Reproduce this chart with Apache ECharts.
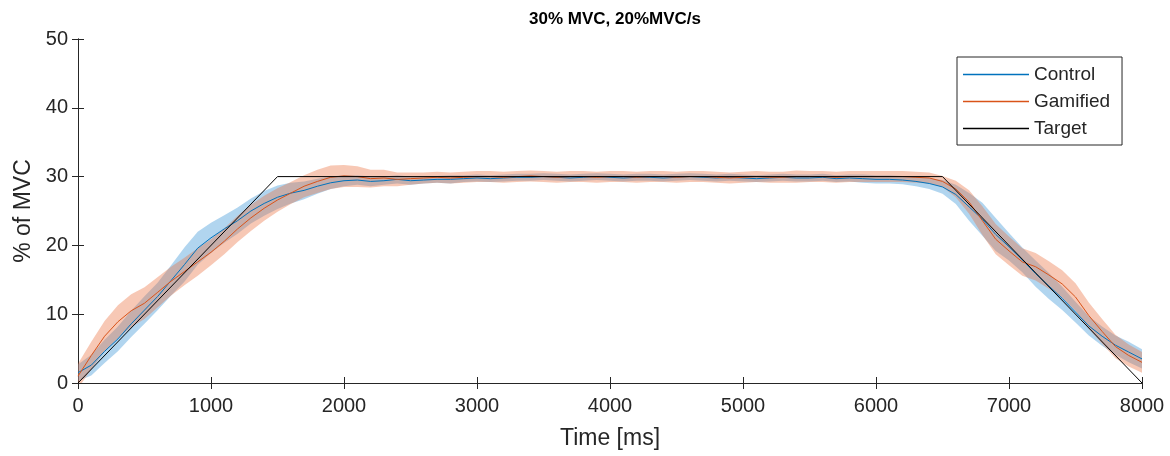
<!DOCTYPE html>
<html>
<head>
<meta charset="utf-8">
<script src="https://cdn.jsdelivr.net/npm/echarts@6/dist/echarts.min.js"></script>
<style>html,body{margin:0;padding:0;background:#fff}#c{width:1170px;height:456px}</style>
</head>
<body>
<div id="c"></div>
<script>
// time grid (ms), step 100
const timeMs = [0,100,200,300,400,500,600,700,800,900,1000,1100,1200,1300,1400,1500,1600,1700,1800,1900,2000,2100,2200,2300,2400,2500,2600,2700,2800,2900,3000,3100,3200,3300,3400,3500,3600,3700,3800,3900,4000,4100,4200,4300,4400,4500,4600,4700,4800,4900,5000,5100,5200,5300,5400,5500,5600,5700,5800,5900,6000,6100,6200,6300,6400,6500,6600,6700,6800,6900,7000,7100,7200,7300,7400,7500,7600,7700,7800,7900,8000];
// Control mean (% MVC)
const controlMean = [1.5,2.6,4.6,6.4,8.6,10.6,12.6,14.9,17.2,19.6,21.1,22.4,23.6,25.0,26.1,27.0,27.6,28.0,28.6,29.1,29.4,29.5,29.3,29.4,29.6,29.4,29.5,29.6,29.6,29.7,29.8,29.7,29.8,29.9,29.9,30.0,29.9,29.8,29.9,30.0,29.9,29.8,29.9,29.9,29.8,29.9,30.0,29.9,29.8,29.9,29.8,29.7,29.8,29.9,29.8,29.8,29.9,29.7,29.8,29.7,29.6,29.6,29.5,29.3,29.0,28.5,27.4,25.6,23.8,21.6,19.8,17.9,15.9,14.1,12.3,10.3,8.3,6.8,5.5,4.5,3.5];
// Control spread (half width of shaded band)
const controlSpread = [1.2,1.5,1.7,1.8,1.9,2.0,2.0,2.2,2.5,2.4,2.2,2.0,1.9,1.8,1.8,1.7,1.5,1.3,1.1,0.9,0.8,0.7,0.7,0.6,0.6,0.6,0.5,0.5,0.6,0.5,0.5,0.5,0.5,0.5,0.5,0.5,0.5,0.5,0.5,0.5,0.5,0.5,0.5,0.5,0.5,0.5,0.5,0.5,0.5,0.5,0.5,0.5,0.5,0.5,0.5,0.5,0.5,0.5,0.5,0.6,0.6,0.6,0.6,0.7,0.8,1.0,1.4,2.0,2.4,2.4,2.0,1.8,1.9,1.9,1.7,1.5,1.4,1.4,1.4,1.5,1.4];
// Gamified mean (% MVC)
const gamifiedMean = [1.0,4.0,6.8,8.9,10.5,11.6,13.2,14.8,16.2,17.6,19.0,20.6,22.4,24.0,25.4,26.6,27.6,28.6,29.3,29.9,30.1,30.0,29.7,29.8,29.6,29.7,29.8,29.9,29.8,29.9,30.0,30.0,29.9,30.0,30.1,30.0,29.9,30.0,30.0,29.9,30.0,30.0,29.9,30.0,30.0,29.9,30.0,30.0,29.9,29.8,29.9,30.0,29.9,29.9,30.0,30.0,30.0,29.9,30.0,30.0,30.0,30.0,30.0,29.9,29.8,29.3,28.2,26.3,23.6,20.9,19.2,17.6,16.9,15.7,14.4,12.5,9.8,7.5,5.3,4.0,3.0];
// Gamified spread (half width of shaded band)
const gamifiedSpread = [1.8,2.0,2.2,2.4,2.4,2.3,2.2,2.1,2.0,2.0,1.9,1.9,1.9,1.9,1.8,1.7,1.6,1.6,1.7,1.7,1.6,1.5,1.3,1.2,1.0,0.9,0.8,0.8,0.8,0.8,0.8,0.8,0.8,0.8,0.8,0.8,0.8,0.8,0.8,0.8,0.8,0.8,0.8,0.8,0.8,0.8,0.8,0.8,0.8,0.8,0.8,0.8,0.8,0.8,0.9,0.8,0.8,0.8,0.8,0.8,0.8,0.8,0.8,0.8,0.8,0.8,1.2,1.7,2.1,2.2,2.1,2.0,2.0,2.0,2.0,2.0,1.9,1.8,1.7,1.6,1.5];
// Target profile
const targetTime = [0,1500,6500,8000];
const targetValue = [0,30,30,0];

const FONT = '"Liberation Sans", Arial, Helvetica, sans-serif';
const TXT = '#262626';
const C_BLUE = '#0072BD', C_ORANGE = '#D95319';

function pairs(ys){ return timeMs.map((t,i)=>[t, ys[i]]); }

// shaded band (mean ± spread) as one polygon through the chart's own scales
function bandSeries(mean, spread, fill){
  return {
    type:'custom', silent:true, clip:true, z:1,
    data:[[0,0]],
    renderItem:function(params, api){
      const pts = [];
      for (let i=0;i<timeMs.length;i++) pts.push(api.coord([timeMs[i], mean[i]+spread[i]]));
      for (let i=timeMs.length-1;i>=0;i--) pts.push(api.coord([timeMs[i], mean[i]-spread[i]]));
      return {type:'polygon', shape:{points:pts}, style:{fill:fill, stroke:null}};
    }
  };
}

const axisCommon = {
  axisLine:{show:true,lineStyle:{color:TXT,width:1}},
  axisTick:{show:true,inside:true,length:6,lineStyle:{color:TXT}},
  splitLine:{show:false}
};

const chart = echarts.init(document.getElementById('c'), null, {renderer:'canvas'});
chart.setOption({
  animation:false,
  backgroundColor:'#fff',
  title:{text:'30% MVC, 20%MVC/s',left:610,top:6,textAlign:'center',
    textStyle:{fontFamily:FONT,fontSize:17,fontWeight:'bold',color:'#000'}},
  grid:{left:78,right:28,top:39,bottom:73,containLabel:false},
  legend:{
    data:['Control','Gamified','Target'],
    orient:'vertical',left:957,top:57,
    icon:'rect',itemWidth:66,itemHeight:1.5,itemGap:8,
    borderColor:'#262626',borderWidth:1,backgroundColor:'#fff',
    padding:[8,12,7,6],
    textStyle:{fontFamily:FONT,fontSize:19,lineHeight:19,color:TXT}
  },
  xAxis:[
    Object.assign({type:'value',min:0,max:8000,interval:1000,position:'bottom',
      name:'Time [ms]',nameLocation:'middle',nameGap:44,
      nameTextStyle:{fontFamily:FONT,fontSize:23,color:TXT},
      axisLabel:{fontFamily:FONT,fontSize:20,color:TXT,margin:13,formatter:v=>String(v)}},axisCommon),
    Object.assign({type:'value',min:0,max:8000,interval:1000,position:'top',
      axisLabel:{show:false}},axisCommon)
  ],
  yAxis:[
    Object.assign({type:'value',min:0,max:50,interval:10,position:'left',
      name:'% of MVC',nameLocation:'middle',nameGap:39,
      nameTextStyle:{fontFamily:FONT,fontSize:23,color:TXT},
      axisLabel:{fontFamily:FONT,fontSize:20,color:TXT,margin:10}},axisCommon),
    Object.assign({type:'value',min:0,max:50,interval:10,position:'right',
      axisLabel:{show:false}},axisCommon)
  ],
  series:[
    bandSeries(controlMean, controlSpread, 'rgba(60,150,215,0.40)'),
    bandSeries(gamifiedMean, gamifiedSpread, 'rgba(235,110,60,0.38)'),
    {name:'Control',type:'line',z:3,data:pairs(controlMean),showSymbol:false,symbol:'none',
      color:C_BLUE,lineStyle:{color:C_BLUE,width:1}},
    {name:'Gamified',type:'line',z:3,data:pairs(gamifiedMean),showSymbol:false,symbol:'none',
      color:C_ORANGE,lineStyle:{color:C_ORANGE,width:1}},
    {name:'Target',type:'line',z:4,data:targetTime.map((t,i)=>[t,targetValue[i]]),showSymbol:false,symbol:'none',
      color:'#000',lineStyle:{color:'#000',width:1}}
  ]
});
</script>
</body>
</html>
